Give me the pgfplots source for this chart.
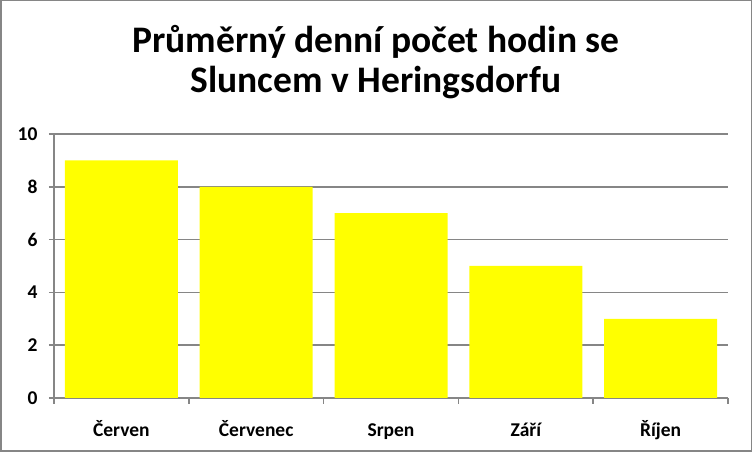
\documentclass[border=0pt]{standalone}
\usepackage{pgfplots}
\pgfplotsset{compat=1.18}
\usepackage{fontspec}
\setmainfont{Carlito}
\definecolor{gridgray}{HTML}{868686}
\definecolor{baryellow}{HTML}{FFFF00}
\begin{document}
\begin{tikzpicture}
\useasboundingbox (0pt,0pt) rectangle (752pt,452pt);
% outer frame of the chart area
\draw[gridgray, line width=1.5pt] (0.75pt,0.75pt) rectangle (751.25pt,451.25pt);
% title
\node[anchor=base, font=\bfseries\fontsize{37.5}{44}\selectfont] at (376pt,399pt) {Průměrný denní počet hodin se};
\node[anchor=base, font=\bfseries\fontsize{37.5}{44}\selectfont] at (376pt,359pt) {Sluncem v Heringsdorfu};
\begin{axis}[
  at={(54pt,54pt)}, anchor=origin,
  scale only axis, width=674pt, height=264pt,
  xmin=0, xmax=5, ymin=0, ymax=10,
  axis x line=bottom, axis y line=left,
  axis line style={gridgray, line width=1.5pt, -},
  ytick={0,2,...,10},
  ymajorgrids, grid style={gridgray, line width=1.5pt},
  xtick={0.5,1.5,2.5,3.5,4.5},
  xticklabels={Červen, Červenec, Srpen, Září, Říjen},
  minor xtick={0,1,...,5},
  tick align=outside,
  major tick length=5pt, minor tick length=6pt,
  x tick style={draw=none},
  minor x tick style={draw=gridgray, line width=1.5pt},
  y tick style={gridgray, line width=1.5pt},
  /pgf/number format/assume math mode=true,
  ticklabel style={font=\bfseries\fontsize{19.5}{23}\selectfont, text=black},
  yticklabel style={xshift=-8pt},
  xticklabel style={anchor=base, text height=14pt, text depth=4pt, yshift=-34pt},
  clip=false,
]
\addplot[ybar, bar width=113pt, fill=baryellow, draw=none] coordinates {
  (0.5,9) (1.5,8) (2.5,7) (3.5,5) (4.5,3)
};
\end{axis}
\end{tikzpicture}
\end{document}
